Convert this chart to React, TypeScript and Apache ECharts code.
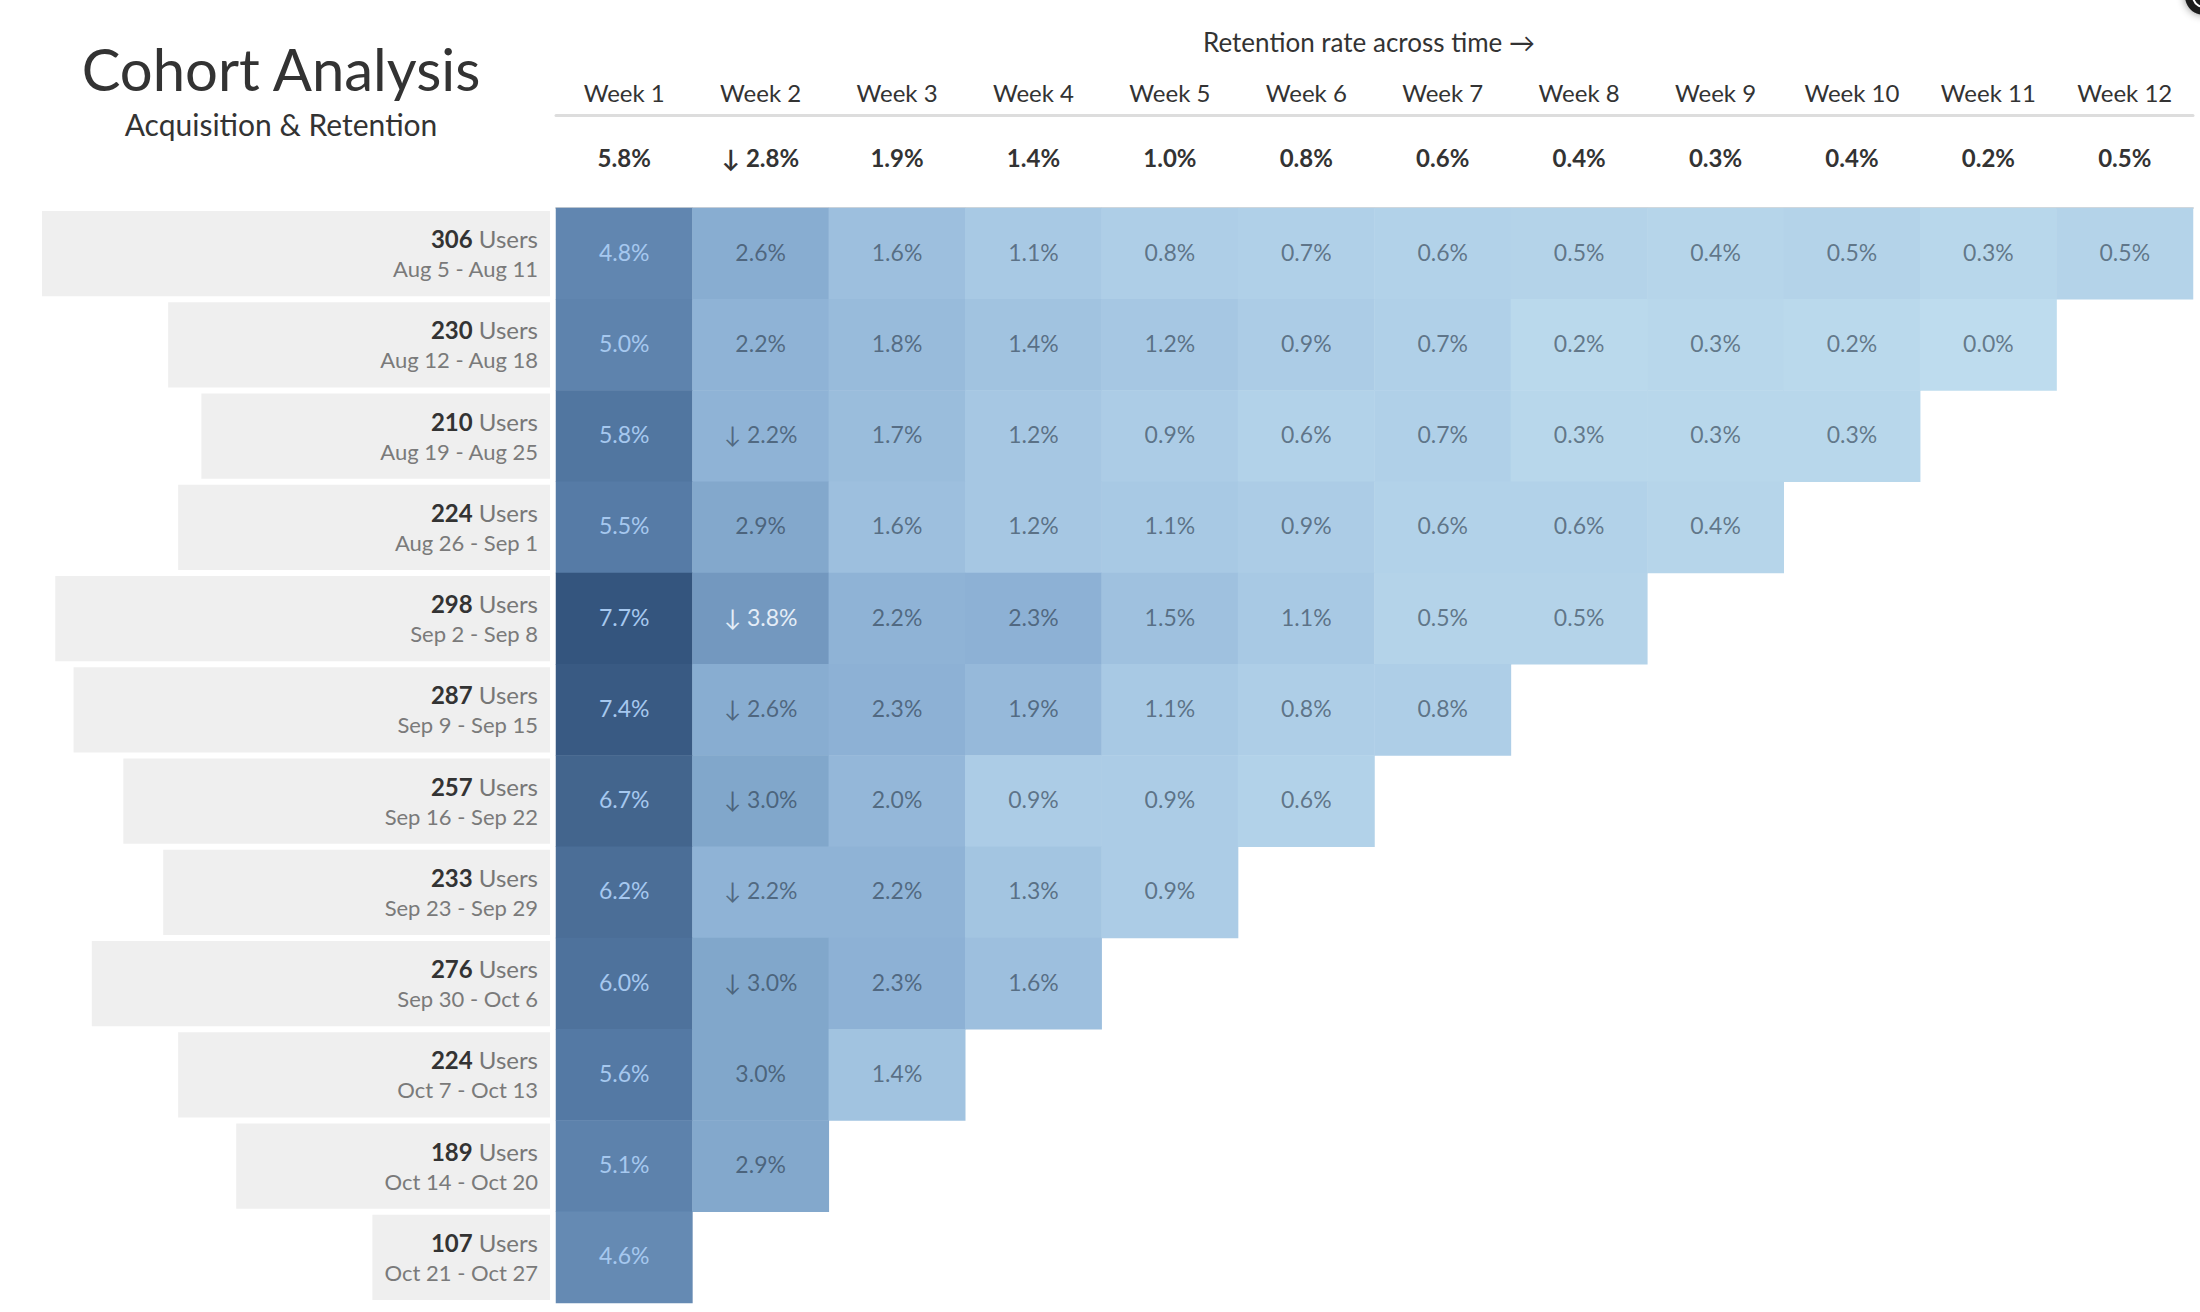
import React, { useEffect, useRef } from "react";
import * as echarts from "echarts";

const weeks = ["Week 1", "Week 2", "Week 3", "Week 4", "Week 5", "Week 6", "Week 7", "Week 8", "Week 9", "Week 10", "Week 11", "Week 12"];
const averages = [5.8, 2.8, 1.9, 1.4, 1.0, 0.8, 0.6, 0.4, 0.3, 0.4, 0.2, 0.5];
const averageArrows = [false, true, false, false, false, false, false, false, false, false, false, false];

const cohorts = [
  "Aug 5 - Aug 11",
  "Aug 12 - Aug 18",
  "Aug 19 - Aug 25",
  "Aug 26 - Sep 1",
  "Sep 2 - Sep 8",
  "Sep 9 - Sep 15",
  "Sep 16 - Sep 22",
  "Sep 23 - Sep 29",
  "Sep 30 - Oct 6",
  "Oct 7 - Oct 13",
  "Oct 14 - Oct 20",
  "Oct 21 - Oct 27",
];
const users = [306, 230, 210, 224, 298, 287, 257, 233, 276, 224, 189, 107];

const retention: number[][] = [
  [4.8, 2.6, 1.6, 1.1, 0.8, 0.7, 0.6, 0.5, 0.4, 0.5, 0.3, 0.5],
  [5.0, 2.2, 1.8, 1.4, 1.2, 0.9, 0.7, 0.2, 0.3, 0.2, 0.0],
  [5.8, 2.2, 1.7, 1.2, 0.9, 0.6, 0.7, 0.3, 0.3, 0.3],
  [5.5, 2.9, 1.6, 1.2, 1.1, 0.9, 0.6, 0.6, 0.4],
  [7.7, 3.8, 2.2, 2.3, 1.5, 1.1, 0.5, 0.5],
  [7.4, 2.6, 2.3, 1.9, 1.1, 0.8, 0.8],
  [6.7, 3.0, 2.0, 0.9, 0.9, 0.6],
  [6.2, 2.2, 2.2, 1.3, 0.9],
  [6.0, 3.0, 2.3, 1.6],
  [5.6, 3.0, 1.4],
  [5.1, 2.9],
  [4.6],
];
// cells of Week 2 that carry a drop arrow (row indices)
const arrowRows = [2, 4, 5, 6, 7, 8];

const colorStops = ["#bedcee", "#a8c9e4", "#8fb3d6", "#7ca2c7", "#688db6", "#567ba6", "#45678f", "#34557e"];

const FONT = "Lato, 'Noto Sans', sans-serif";

function fmtPct(v: number, arrow: boolean) {
  return (arrow ? "↓ " : "") + v.toFixed(1) + "%";
}

export default function App() {
  const ref = useRef<HTMLDivElement>(null);

  useEffect(() => {
    document.body.style.margin = "0";
    if (!ref.current) return;
    const chart = echarts.init(ref.current, undefined, { renderer: "svg" });

    const heatData: any[] = [];
    retention.forEach((row, r) => {
      row.forEach((v, c) => {
        const arrow = c === 1 && arrowRows.includes(r);
        let color = "rgba(40,55,72,0.6)";
        if (c === 0) color = "#a6c8ef";
        else if (v >= 3.5) color = "#e4edf7";
        heatData.push({
          value: [c, r, v],
          label: { color },
          arrow,
        });
      });
    });

    const heatLeft = 556;
    const heatTop = 208;
    const heatWidth = 1637;
    const heatHeight = 1095;

    const option: any = {
      animation: false,
      backgroundColor: "#ffffff",
      textStyle: { fontFamily: FONT },
      title: [
        {
          text: "Cohort Analysis",
          subtext: "Acquisition & Retention",
          left: 276,
          top: 31,
          textAlign: "center",
          itemGap: 7,
          textStyle: { fontFamily: FONT, fontSize: 58, lineHeight: 64, fontWeight: "normal", color: "#333333" },
          subtextStyle: { fontFamily: FONT, fontSize: 30, lineHeight: 34, color: "#333333" },
        },
        {
          text: "Retention rate across time →",
          left: 1364,
          top: 22,
          textAlign: "center",
          textStyle: { fontFamily: FONT, fontSize: 26, lineHeight: 30, fontWeight: "normal", color: "#333333" },
        },
      ],
      visualMap: {
        type: "continuous",
        show: false,
        min: 0,
        max: 7.7,
        seriesIndex: 1,
        dimension: 2,
        inRange: { color: colorStops },
      },
      grid: [
        { left: 42, top: heatTop, width: 508, height: heatHeight },
        { left: heatLeft, top: heatTop, width: heatWidth, height: heatHeight },
      ],
      xAxis: [
        { type: "value", gridIndex: 0, inverse: true, min: 0, max: Math.max(...users), show: false },
        {
          type: "category",
          gridIndex: 1,
          data: weeks,
          position: "top",
          offset: 93,
          axisLine: { show: true, lineStyle: { color: "#dddddd", width: 3 } },
          axisTick: { show: false },
          splitLine: { show: false },
          axisLabel: { margin: 23, fontSize: 24, color: "#333333", fontFamily: FONT, verticalAlign: "middle" },
        },
        {
          type: "category",
          gridIndex: 1,
          data: averages.map((v, i) => fmtPct(v, averageArrows[i])),
          position: "top",
          offset: 0,
          axisLine: { show: true, lineStyle: { color: "#d9d9d9", width: 2 } },
          axisTick: { show: false },
          splitLine: { show: false },
          axisLabel: { margin: 51, fontSize: 24, fontWeight: "bold", color: "#333333", fontFamily: FONT, verticalAlign: "middle" },
        },
      ],
      yAxis: [
        { type: "category", gridIndex: 0, inverse: true, data: cohorts, show: false },
        { type: "category", gridIndex: 1, inverse: true, data: cohorts, show: false },
      ],
      series: [
        {
          type: "bar",
          xAxisIndex: 0,
          yAxisIndex: 0,
          data: users,
          barCategoryGap: "6.5%",
          itemStyle: { color: "#efefef" },
          silent: true,
          label: {
            show: true,
            position: "insideRight",
            distance: 12,
            formatter: (p: any) => `{b|${p.value}}{u| Users}\n{d|${cohorts[p.dataIndex]}}`,
            rich: {
              b: { fontFamily: FONT, fontSize: 24, fontWeight: "bold", color: "#333333", lineHeight: 30 },
              u: { fontFamily: FONT, fontSize: 24, color: "#777777", lineHeight: 30 },
              d: { fontFamily: FONT, fontSize: 22, color: "#7a7a7a", lineHeight: 30, align: "right" },
            },
            align: "right",
          },
        },
        {
          type: "heatmap",
          xAxisIndex: 1,
          yAxisIndex: 1,
          data: heatData,
          silent: true,
          label: {
            show: true,
            fontFamily: FONT,
            fontSize: 23,
            offset: [0, -2],
            formatter: (p: any) => fmtPct(p.value[2], p.data.arrow),
          },
          itemStyle: { borderWidth: 0 },
        },
      ],
      graphic: [
        {
          type: "circle",
          shape: { cx: 2204, cy: -4, r: 19 },
          style: { fill: "#1e1e1e", shadowBlur: 8, shadowColor: "rgba(0,0,0,0.45)" },
        },
        {
          type: "circle",
          shape: { cx: 2204, cy: -4, r: 11 },
          style: { fill: "none", stroke: "#ffffff", lineWidth: 2 },
        },
      ],
    };

    chart.setOption(option);
    return () => chart.dispose();
  }, []);

  return <div ref={ref} style={{ position: "absolute", left: 0, top: 0, width: 2200, height: 1312 }} />;
}
